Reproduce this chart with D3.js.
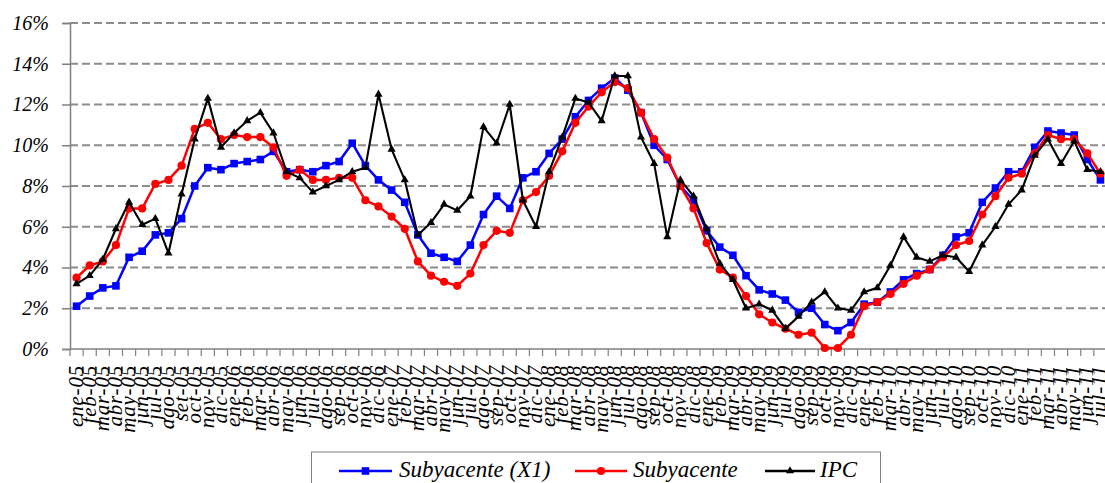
<!DOCTYPE html>
<html>
<head>
<meta charset="utf-8">
<script src="https://cdn.jsdelivr.net/npm/d3@7/dist/d3.min.js"></script>
</head>
<body style="margin:0">
<div id="chart"></div>
<script>
let months = [
    "ene-05", "feb-05", "mar-05", "abr-05", "may-05", "jun-05", "jul-05", "ago-05", "set-05", "oct-05", "nov-05", "dic-05",
    "ene-06", "feb-06", "mar-06", "abr-06", "may-06", "jun-06", "jul-06", "ago-06", "sep-06", "oct-06", "nov-06", "dic-06",
    "ene-07", "feb-07", "mar-07", "abr-07", "may-07", "jun-07", "jul-07", "ago-07", "sep-07", "oct-07", "nov-07", "dic-07",
    "ene-08", "feb-08", "mar-08", "abr-08", "may-08", "jun-08", "jul-08", "ago-08", "sep-08", "oct-08", "nov-08", "dic-08",
    "ene-09", "feb-09", "mar-09", "abr-09", "may-09", "jun-09", "jul-09", "ago-09", "sep-09", "oct-09", "nov-09", "dic-09",
    "ene-10", "feb-10", "mar-10", "abr-10", "may-10", "jun-10", "jul-10", "ago-10", "sep-10", "oct-10", "nov-10", "dic-10",
    "ene-11", "feb-11", "mar-11", "abr-11", "may-11", "jun-11", "jul-11"
];

// Subyacente (X1)
let subyacente_x1 = [
    2.1, 2.6, 3.0, 3.1, 4.5, 4.8, 5.6, 5.7, 6.4, 8.0, 8.9, 8.8,
    9.1, 9.2, 9.3, 9.7, 8.7, 8.8, 8.7, 9.0, 9.2, 10.1, 9.0, 8.3,
    7.8, 7.2, 5.6, 4.7, 4.5, 4.3, 5.1, 6.6, 7.5, 6.9, 8.4, 8.7,
    9.6, 10.3, 11.4, 12.2, 12.8, 13.3, 12.7, 11.6, 10.0, 9.3, 8.0, 7.3,
    5.8, 5.0, 4.6, 3.6, 2.9, 2.7, 2.4, 1.8, 2.0, 1.2, 0.9, 1.3,
    2.2, 2.3, 2.8, 3.4, 3.7, 3.9, 4.6, 5.5, 5.7, 7.2, 7.9, 8.7,
    8.7, 9.9, 10.7, 10.6, 10.5, 9.3, 8.3
];

// Subyacente
let subyacente = [
    3.5, 4.1, 4.3, 5.1, 6.9, 6.9, 8.1, 8.3, 9.0, 10.8, 11.1, 10.3,
    10.5, 10.4, 10.4, 9.9, 8.5, 8.8, 8.3, 8.3, 8.4, 8.4, 7.3, 7.0,
    6.5, 5.9, 4.3, 3.6, 3.3, 3.1, 3.7, 5.1, 5.8, 5.7, 7.3, 7.7,
    8.5, 9.7, 11.1, 11.9, 12.6, 13.1, 12.8, 11.6, 10.3, 9.4, 8.0, 6.9,
    5.2, 3.9, 3.5, 2.6, 1.7, 1.3, 1.0, 0.7, 0.8, 0.05, 0.05, 0.7,
    2.1, 2.3, 2.7, 3.2, 3.6, 3.9, 4.5, 5.1, 5.3, 6.6, 7.5, 8.4,
    8.6, 9.6, 10.5, 10.3, 10.3, 9.6, 8.6
];

// IPC
let ipc = [
    3.2, 3.6, 4.4, 5.9, 7.2, 6.1, 6.4, 4.7, 7.6, 10.3, 12.3, 9.9,
    10.6, 11.2, 11.6, 10.6, 8.7, 8.4, 7.7, 8.0, 8.3, 8.7, 8.9, 12.5,
    9.8, 8.3, 5.6, 6.2, 7.1, 6.8, 7.5, 10.9, 10.1, 12.0, 7.3, 6.0,
    8.7, 10.4, 12.3, 12.1, 11.2, 13.4, 13.4, 10.4, 9.1, 5.5, 8.3, 7.5,
    5.9, 4.2, 3.4, 2.0, 2.2, 1.9, 1.0, 1.6, 2.3, 2.8, 2.0, 1.9,
    2.8, 3.0, 4.1, 5.5, 4.5, 4.3, 4.6, 4.5, 3.8, 5.1, 6.0, 7.1,
    7.8, 9.5, 10.3, 9.1, 10.2, 8.8, 8.7
];

let y_ticks = [0, 2, 4, 6, 8, 10, 12, 14, 16];

let series_names = ["Subyacente (X1)", "Subyacente", "IPC"];
let series_values = [subyacente_x1, subyacente, ipc];
let series_colors = ["#0000ff", "#ff0000", "#000000"];
let series_markers = ["square", "circle", "triangle"];

let width = 1105;
let height = 483;
let font = "Liberation Serif";

// every text gets the font on itself
function serifText(sel, size) {
    return sel
        .attr("font-family", font)
        .attr("font-style", "italic")
        .attr("font-size", size)
        .attr("fill", "#000");
}

let svg = d3.select("#chart").append("svg")
    .attr("width", width)
    .attr("height", height);

//scales
let x = d3.scaleBand()
    .domain(months)
    .range([70, 1107])
    .padding(0);

let y = d3.scaleLinear()
    .domain([0, 16])
    .range([349, 23]);

let cx = d => x(d) + x.bandwidth() / 2;

//gridlines
svg.append("g")
    .selectAll("line")
    .data(y_ticks.filter(t => t > 0))
    .join("line")
    .attr("x1", 70)
    .attr("x2", width)
    .attr("y1", d => y(d))
    .attr("y2", d => y(d))
    .attr("stroke", "#8c8c8c")
    .attr("stroke-width", 2)
    .attr("stroke-dasharray", "8,4");

//y axis
let y_axis = svg.append("g")
    .attr("transform", "translate(70,0)")
    .call(d3.axisLeft(y).tickValues(y_ticks).tickSize(8).tickFormat(d => d + "%"));
y_axis.select(".domain").attr("stroke", "#808080").attr("stroke-width", 1.5);
y_axis.selectAll(".tick line").attr("stroke", "#808080").attr("stroke-width", 1.5);
serifText(y_axis.selectAll(".tick text"), 20)
    .attr("x", -21);

//x axis
let x_axis = svg.append("g")
    .attr("transform", "translate(0,349)");
x_axis.append("line")
    .attr("x1", 70)
    .attr("x2", width)
    .attr("stroke", "#808080")
    .attr("stroke-width", 1.5);
x_axis.selectAll(".xtick")
    .data(months)
    .join("line")
    .attr("class", "xtick")
    .attr("x1", d => x(d))
    .attr("x2", d => x(d))
    .attr("y1", 0)
    .attr("y2", 7)
    .attr("stroke", "#808080")
    .attr("stroke-width", 1.2);
serifText(x_axis.selectAll(".xlabel")
    .data(months)
    .join("text")
    .attr("class", "xlabel")
    .attr("transform", d => "translate(" + (cx(d) + 6) + ",16) rotate(-90)")
    .attr("text-anchor", "end")
    .attr("letter-spacing", 0.8)
    .text(d => d), 21);

function drawMarker(g, kind, color, px, py, s) {
    if (kind == "square") {
        g.append("rect")
            .attr("x", px - s / 2)
            .attr("y", py - s / 2)
            .attr("width", s)
            .attr("height", s)
            .attr("fill", color);
    } else if (kind == "circle") {
        g.append("circle")
            .attr("cx", px)
            .attr("cy", py)
            .attr("r", s / 2 + 0.3)
            .attr("fill", color);
    } else {
        g.append("path")
            .attr("d", d3.symbol(d3.symbolTriangle).size(s * s * 0.5))
            .attr("transform", "translate(" + px + "," + py + ")")
            .attr("fill", color);
    }
}

//lines + markers
let line = d3.line()
    .x((d, i) => cx(months[i]))
    .y(d => y(d));

series_values.forEach((vals, k) => {
    let g = svg.append("g");
    g.append("path")
        .datum(vals)
        .attr("d", line)
        .attr("fill", "none")
        .attr("stroke", series_colors[k])
        .attr("stroke-width", k == 2 ? 2.1 : 2.5)
        .attr("stroke-linejoin", "round");
    vals.forEach((v, i) => {
        drawMarker(g, series_markers[k], series_colors[k], cx(months[i]), y(v), 7.6);
    });
});

//legend
let legend = svg.append("g");
legend.append("rect")
    .attr("x", 311.5)
    .attr("y", 452)
    .attr("width", 569)
    .attr("height", 40)
    .attr("fill", "#fff")
    .attr("stroke", "#808080")
    .attr("stroke-width", 1);

let legend_items = [
    { x1: 339, x2: 392, tx: 399 },
    { x1: 575, x2: 627, tx: 633 },
    { x1: 765, x2: 815, tx: 820 }
];

legend_items.forEach((it, k) => {
    legend.append("line")
        .attr("x1", it.x1)
        .attr("x2", it.x2)
        .attr("y1", 471)
        .attr("y2", 471)
        .attr("stroke", series_colors[k])
        .attr("stroke-width", 2.5);
    drawMarker(legend, series_markers[k], series_colors[k], (it.x1 + it.x2) / 2, 471, 7.6);
    serifText(legend.append("text")
        .attr("x", it.tx)
        .attr("y", 477)
        .text(series_names[k]), 23);
});
</script>
</body>
</html>
